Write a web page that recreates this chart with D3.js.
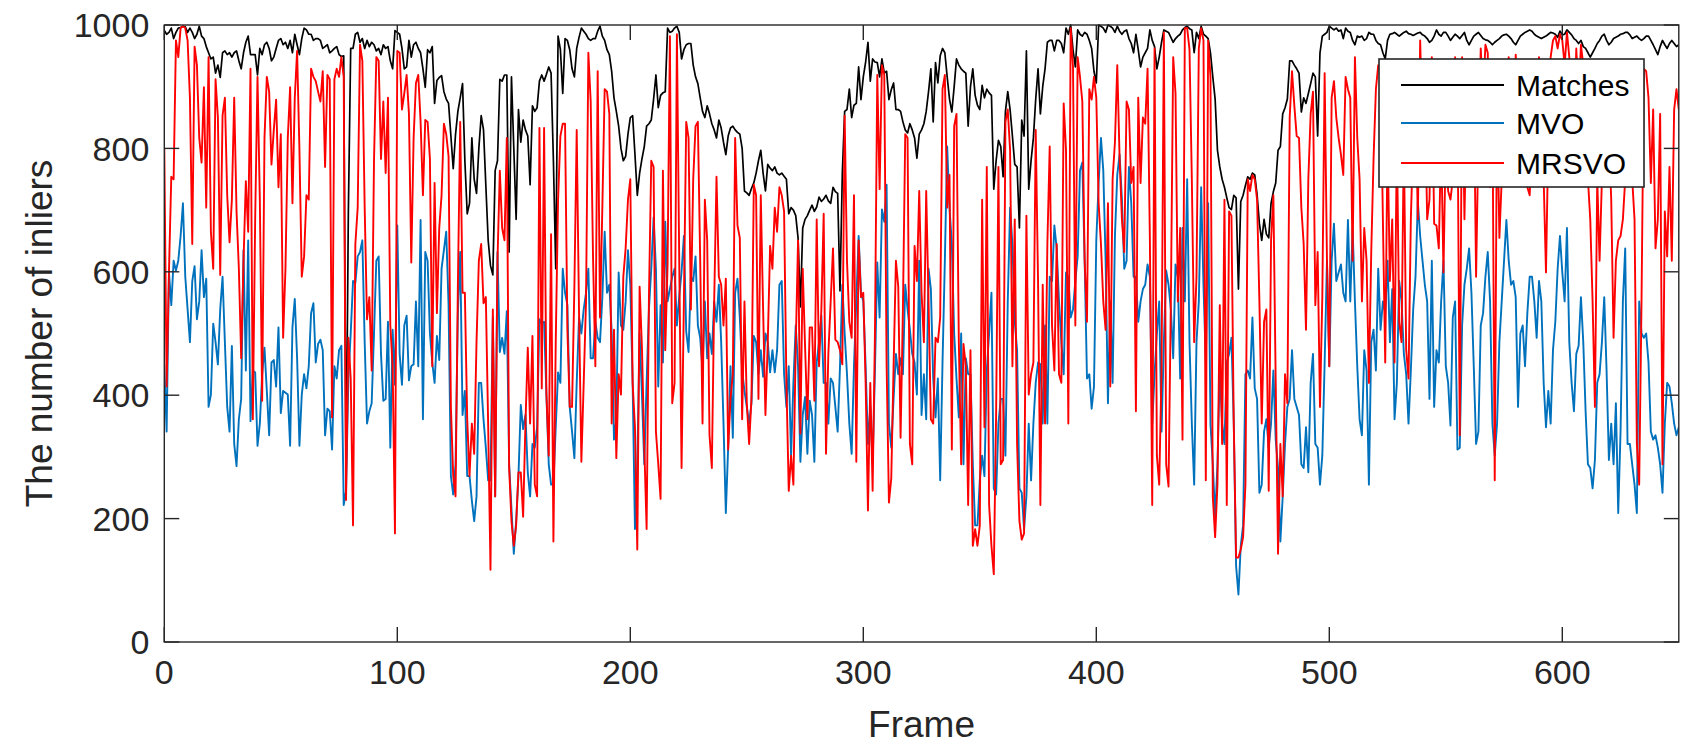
<!DOCTYPE html>
<html>
<head>
<meta charset="utf-8">
<style>
  body { margin: 0; background: #fff; }
  svg text { font-family: "Liberation Sans", Arial, Helvetica, sans-serif; }
</style>
</head>
<body>
<div id="chart"></div>
<script src="https://d3js.org/d3.v7.min.js"></script>
<script>
// number of matches / inliers per frame (frame = array index, 0..650)
var matches = [
  991,985,988,995,978,988,995,996,998,997,
  988,995,988,978,985,998,982,978,965,955,
  945,948,922,935,915,955,958,952,955,948,
  955,958,942,929,955,972,982,952,952,952,
  919,962,952,968,972,962,942,948,962,975,
  978,968,972,962,975,955,985,968,952,978,
  995,992,985,985,975,978,978,975,962,965,
  968,955,958,962,965,952,949,950,260,700,
  962,962,985,988,972,978,962,975,965,972,
  968,958,962,952,968,962,965,942,929,991,
  988,985,962,929,932,975,948,968,972,962,
  955,929,899,960,955,965,873,910,915,918,
  892,880,873,820,767,823,860,882,905,780,
  694,711,817,750,727,800,853,830,740,651,
  610,595,764,780,912,909,919,919,632,916,
  800,685,863,810,846,830,820,741,869,860,
  866,909,919,909,920,932,922,780,605,982,
  960,889,978,975,960,929,916,962,980,995,
  990,985,978,975,978,978,990,998,982,975,
  960,952,925,882,860,836,800,780,787,823,
  850,853,790,724,760,783,803,836,840,846,
  880,919,866,886,890,892,995,988,990,995,
  998,988,945,960,968,970,970,935,916,905,
  882,860,850,869,856,840,830,817,846,833,
  810,790,820,833,836,830,826,823,800,731,
  728,724,735,744,760,780,797,760,731,774,
  768,764,770,760,757,760,755,750,694,704,
  700,691,655,543,671,685,691,700,708,698,
  705,721,714,718,724,715,711,737,730,727,
  569,760,860,863,896,850,870,873,932,879,
  916,940,972,909,945,940,939,916,945,922,
  925,879,895,906,863,863,860,843,830,825,
  840,830,817,784,823,830,840,860,892,929,
  843,939,906,950,962,955,916,880,859,900,
  945,935,929,925,922,836,900,929,886,870,
  863,902,882,896,890,886,734,780,813,803,
  754,860,892,863,820,774,770,671,846,820,
  958,734,780,817,880,929,856,900,929,972,
  975,975,958,975,975,970,955,995,985,1000,
  960,932,992,985,982,988,985,975,962,925,
  906,1000,998,995,988,1000,998,995,988,998,
  990,985,990,992,978,970,955,985,960,932,
  948,955,962,992,975,965,929,948,972,992,
  990,988,980,972,978,982,985,992,996,998,
  994,992,955,988,978,998,985,982,978,955,
  916,880,797,770,750,737,720,704,701,724,
  720,572,714,724,740,754,750,760,757,725,
  678,651,685,661,655,711,730,744,797,803,
  856,866,880,942,942,935,929,922,859,882,
  873,889,905,922,916,820,955,982,985,988,
  998,995,992,995,990,992,978,995,990,988,
  975,968,982,980,982,975,978,988,985,985,
  975,970,968,955,945,975,985,986,988,985,
  982,985,988,990,986,985,983,985,987,988,
  984,982,978,972,975,982,992,985,982,988,
  988,982,975,980,985,982,978,983,988,975,
  968,975,982,985,988,983,978,976,975,972,
  968,972,975,978,982,984,985,982,978,972,
  968,975,982,985,988,990,992,990,985,982,
  980,978,980,982,985,988,987,985,980,990,
  984,985,992,988,984,978,975,970,975,965,
  962,955,948,955,962,970,975,982,985,975,
  968,972,978,980,982,985,986,988,988,984,
  978,980,982,978,975,978,982,982,975,968,
  960,952,965,975,968,962,970,975,970,965,968
];

var mvo = [
  450,341,599,546,618,602,618,658,711,592,
  539,486,585,609,523,552,635,559,589,381,
  401,516,486,450,539,592,486,381,341,480,
  321,285,361,394,635,440,651,358,440,437,
  318,354,434,477,407,335,453,457,414,510,
  371,407,404,401,318,510,556,460,318,401,
  434,411,447,533,549,453,483,490,473,335,
  378,374,312,447,427,473,480,222,245,427,
  500,585,582,625,632,651,486,354,374,387,
  500,618,625,467,391,394,519,315,506,417,
  675,467,417,513,529,424,447,450,552,447,
  684,361,632,618,500,453,420,496,457,605,
  635,665,546,269,239,288,533,632,368,407,
  269,269,229,196,236,420,420,361,315,262,
  262,526,236,632,470,493,467,536,288,216,
  143,196,269,384,345,368,275,236,321,315,
  348,523,516,519,401,288,255,255,348,437,
  420,605,566,546,381,341,298,420,526,500,
  539,566,605,460,460,519,493,486,559,665,
  566,579,503,328,361,599,513,506,552,635,
  579,420,183,288,500,401,288,420,539,605,
  688,605,414,546,453,681,552,572,592,605,
  513,560,600,658,503,470,592,585,625,513,
  493,440,552,460,500,467,552,519,579,486,
  354,209,315,447,331,566,589,526,440,407,
  381,354,387,496,486,434,473,430,500,486,
  437,473,437,473,579,585,434,381,447,302,
  420,513,447,292,368,397,305,391,368,292,
  453,486,529,420,420,354,427,420,381,341,
  447,579,500,434,354,305,447,552,658,566,
  552,447,321,381,288,440,615,526,701,681,
  741,354,315,394,467,434,460,434,579,539,
  506,467,453,401,618,368,434,361,605,572,
  427,364,427,262,453,618,803,704,645,500,
  427,364,500,288,460,434,434,288,189,189,
  262,302,269,440,500,566,249,239,354,394,
  394,302,552,704,645,519,473,249,242,183,
  236,354,262,354,420,453,450,354,513,354,
  592,585,675,638,552,486,434,599,592,526,
  539,585,625,764,777,618,427,434,378,414,
  651,744,817,764,618,387,552,420,658,757,
  790,717,605,618,770,711,592,592,519,552,
  572,579,612,592,354,434,500,552,341,486,
  602,579,539,460,612,592,427,671,552,750,
  486,354,255,486,552,737,578,453,711,354,
  288,203,288,440,354,321,453,467,493,354,
  123,77,156,189,434,440,427,526,411,394,
  242,255,341,361,315,354,440,328,282,163,
  236,321,381,394,473,394,381,368,288,282,
  348,275,420,467,321,315,255,302,453,618,
  447,618,678,585,599,612,566,552,684,552,
  671,552,447,361,335,473,440,255,486,506,
  440,605,506,552,533,618,486,572,361,420,
  585,552,467,434,354,440,539,592,714,658,
  618,579,552,394,618,381,473,453,552,618,
  447,420,351,526,552,312,315,513,579,605,
  638,566,447,321,341,513,533,592,632,552,
  354,302,354,486,552,618,684,618,579,585,
  559,381,500,513,447,533,592,592,552,493,
  585,552,420,348,407,354,473,519,605,658,
  599,552,671,486,420,374,467,480,559,486,
  374,288,282,249,295,420,434,486,559,440,
  295,354,288,387,209,341,552,638,321,321,
  288,255,209,552,500,493,500,453,341,328,
  335,315,288,242,354,420,414,387,354,335,348
];

var mrsvo = [
  800,414,600,754,750,975,948,995,998,995,
  975,882,645,965,935,817,777,899,704,948,
  665,605,912,850,595,853,882,724,648,717,
  882,698,605,460,618,747,665,929,361,685,
  916,717,391,817,916,892,774,830,879,737,
  823,493,605,817,899,711,882,958,797,592,
  625,724,717,929,916,909,892,876,925,770,
  919,912,364,912,929,916,948,916,230,493,
  427,189,645,704,968,942,704,523,559,440,
  780,948,942,783,876,760,882,513,447,176,
  958,955,863,889,919,856,615,817,906,919,
  843,724,846,843,783,447,744,533,671,724,
  840,823,787,381,269,236,579,843,566,566,
  361,269,354,305,486,618,645,549,559,351,
  117,539,236,618,764,671,651,817,282,196,
  156,189,275,275,203,354,477,354,496,255,
  236,833,411,833,401,302,661,163,486,717,
  820,840,840,506,381,381,576,830,533,292,
  420,552,955,876,625,447,925,526,704,896,
  892,856,354,506,298,434,401,592,638,717,
  750,420,348,150,576,477,318,183,559,780,
  770,341,288,232,764,473,612,982,387,420,
  985,618,282,552,843,817,539,750,836,843,
  618,354,717,651,335,282,552,754,592,579,
  513,589,312,394,434,817,675,655,361,552,
  387,321,394,741,724,394,724,539,368,486,
  642,605,704,665,737,724,698,420,245,302,
  255,480,651,338,605,480,361,510,510,391,
  685,447,539,694,305,467,552,638,490,486,
  473,450,853,618,519,493,724,292,651,559,
  566,420,213,420,245,500,919,734,935,919,
  450,226,265,447,618,576,331,539,823,817,
  321,288,642,585,731,566,486,731,552,361,
  354,493,486,526,896,919,704,757,312,836,
  856,486,288,483,447,222,473,156,183,156,
  189,717,348,770,222,156,110,368,770,288,
  295,843,863,797,447,685,321,196,166,176,
  691,401,434,453,830,585,222,579,354,645,
  803,513,440,645,434,420,873,797,354,995,
  932,513,948,916,876,618,519,896,879,916,
  882,711,645,552,506,711,414,750,810,935,
  784,685,632,876,863,744,770,374,882,744,
  850,840,929,651,222,962,302,255,440,988,
  288,252,552,948,889,552,671,328,995,995,
  960,750,486,592,962,995,975,262,975,916,
  236,170,255,546,321,717,222,698,691,354,
  137,137,150,170,255,750,731,757,750,717,
  552,354,519,539,245,651,724,420,143,321,
  236,434,387,850,925,869,820,817,704,645,
  506,750,856,892,546,632,381,559,922,618,
  447,882,909,850,817,790,757,916,896,882,
  618,948,817,750,552,671,618,420,632,784,
  896,935,929,685,453,817,585,685,453,817,
  519,486,817,473,427,685,817,882,685,975,
  817,896,685,717,948,678,675,638,817,599,
  817,731,717,750,948,882,335,948,685,882,
  817,750,916,592,817,962,882,968,955,737,
  882,262,882,655,750,882,817,948,882,817,
  952,882,784,750,916,737,724,817,916,882,
  948,817,750,599,817,948,975,982,962,985,
  975,935,988,948,882,817,962,882,968,935,
  817,750,685,552,381,750,618,750,817,780,
  817,717,493,618,651,658,685,750,882,817,
  750,685,321,255,552,929,925,882,744,863,
  638,685,856,288,698,625,770,618,863,896,863
];

var seriesNames = ["Matches", "MVO", "MRSVO"];
var seriesColors = ["#000000", "#0072BD", "#FF0000"];
var xTicks = [0, 100, 200, 300, 400, 500, 600];
var yTicks = [0, 200, 400, 600, 800, 1000];

var width = 1706, height = 748;
var plotLeft = 164.3, plotRight = 1678.8, plotTop = 25, plotBottom = 642;
var axisColor = "#262626";
var tickLen = 15;

var svg = d3.select("#chart").append("svg")
    .attr("width", width)
    .attr("height", height);

var x = d3.scaleLinear().domain([0, 650]).range([plotLeft, plotRight]);
var y = d3.scaleLinear().domain([0, 1000]).range([plotBottom, plotTop]);

svg.append("clipPath").attr("id", "plotclip")
  .append("rect")
    .attr("x", plotLeft).attr("y", plotTop - 1)
    .attr("width", plotRight - plotLeft).attr("height", plotBottom - plotTop + 2);

var line = d3.line()
    .x(function(d, i) { return x(i); })
    .y(function(d) { return y(d); });

// draw order as in the original: matches, then MVO, then MRSVO on top
var plot = svg.append("g").attr("clip-path", "url(#plotclip)");
[matches, mvo, mrsvo].forEach(function(series, k) {
    plot.append("path")
        .datum(series)
        .attr("fill", "none")
        .attr("stroke", seriesColors[k])
        .attr("stroke-width", k === 0 ? 1.7 : 1.9)
        .attr("stroke-linejoin", "round")
        .attr("d", line);
});

// axes box
svg.append("rect")
    .attr("x", plotLeft).attr("y", plotTop)
    .attr("width", plotRight - plotLeft).attr("height", plotBottom - plotTop)
    .attr("fill", "none")
    .attr("stroke", axisColor)
    .attr("stroke-width", 1.4);

// ticks, pointing inward on all four sides
var ticks = svg.append("g").attr("stroke", axisColor).attr("stroke-width", 1.4);
xTicks.forEach(function(t) {
    ticks.append("line").attr("x1", x(t)).attr("x2", x(t)).attr("y1", plotBottom).attr("y2", plotBottom - tickLen);
    ticks.append("line").attr("x1", x(t)).attr("x2", x(t)).attr("y1", plotTop).attr("y2", plotTop + tickLen);
});
yTicks.forEach(function(t) {
    ticks.append("line").attr("x1", plotLeft).attr("x2", plotLeft + tickLen).attr("y1", y(t)).attr("y2", y(t));
    ticks.append("line").attr("x1", plotRight).attr("x2", plotRight - tickLen).attr("y1", y(t)).attr("y2", y(t));
});

// tick labels
svg.append("g").selectAll("text")
    .data(xTicks)
    .enter().append("text")
    .attr("x", function(d) { return x(d); })
    .attr("y", 684)
    .attr("text-anchor", "middle")
    .attr("fill", axisColor)
    .style("font-size", "34px")
    .text(function(d) { return d; });

svg.append("g").selectAll("text")
    .data(yTicks)
    .enter().append("text")
    .attr("x", plotLeft - 15)
    .attr("y", function(d) { return y(d); })
    .attr("dy", "0.36em")
    .attr("text-anchor", "end")
    .attr("fill", axisColor)
    .style("font-size", "34px")
    .text(function(d) { return d; });

// axis labels
svg.append("text")
    .attr("x", (plotLeft + plotRight) / 2)
    .attr("y", 737)
    .attr("text-anchor", "middle")
    .attr("fill", axisColor)
    .style("font-size", "37px")
    .text("Frame");

svg.append("text")
    .attr("transform", "translate(52," + ((plotTop + plotBottom) / 2) + ") rotate(-90)")
    .attr("text-anchor", "middle")
    .attr("fill", axisColor)
    .style("font-size", "37px")
    .text("The number of inliers");

// legend
var legend = svg.append("g");
legend.append("rect")
    .attr("x", 1379).attr("y", 59)
    .attr("width", 265).attr("height", 128)
    .attr("fill", "#fff")
    .attr("stroke", axisColor)
    .attr("stroke-width", 1.6);

var legendY = [85, 123, 163];
seriesNames.forEach(function(name, k) {
    legend.append("line")
        .attr("x1", 1401).attr("x2", 1504)
        .attr("y1", legendY[k]).attr("y2", legendY[k])
        .attr("stroke", seriesColors[k])
        .attr("stroke-width", 1.9);
    legend.append("text")
        .attr("x", 1516)
        .attr("y", legendY[k])
        .attr("dy", "0.36em")
        .attr("fill", "#000")
        .style("font-size", "30px")
        .text(name);
});
</script>
</body>
</html>
